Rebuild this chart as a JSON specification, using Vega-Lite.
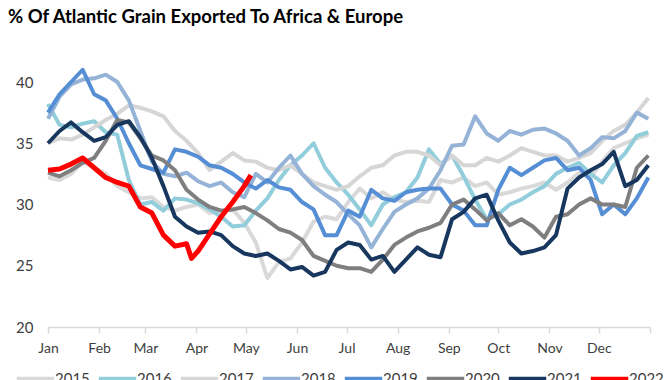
{
  "$schema": "https://vega.github.io/schema/vega-lite/v6.json",
  "width": 602,
  "height": 269.5,
  "autosize": "none",
  "padding": {"left": 48, "top": 57.5, "right": 20, "bottom": 53},
  "background": "white",
  "title": {"text": "% Of Atlantic Grain Exported To Africa & Europe", "anchor": "start", "frame": "group", "dx": -40, "offset": 31, "font": "Lato", "fontSize": 18.5, "fontWeight": "bold", "color": "#000000"},
  "config": {"view": {"stroke": null}, "font": "Lato"},
  "datasets": {
    "s2015": [
      {"date":"2022-01-01","v":32.2},{"date":"2022-01-08","v":32.0},{"date":"2022-01-15","v":32.5},{"date":"2022-01-22","v":33.5},{"date":"2022-01-29","v":33.0},{"date":"2022-02-05","v":32.5},{"date":"2022-02-12","v":31.5},{"date":"2022-02-19","v":31.0},{"date":"2022-02-26","v":30.5},{"date":"2022-03-05","v":30.6},{"date":"2022-03-12","v":29.8},{"date":"2022-03-19","v":29.5},{"date":"2022-03-26","v":29.8},{"date":"2022-04-02","v":30.0},{"date":"2022-04-09","v":29.3},{"date":"2022-04-16","v":29.5},{"date":"2022-04-23","v":29.6},{"date":"2022-04-30","v":28.5},{"date":"2022-05-07","v":26.9},{"date":"2022-05-14","v":24.0},{"date":"2022-05-21","v":25.3},{"date":"2022-05-28","v":25.6},{"date":"2022-06-04","v":26.9},{"date":"2022-06-11","v":28.6},{"date":"2022-06-18","v":29.0},{"date":"2022-06-25","v":28.8},{"date":"2022-07-02","v":30.2},{"date":"2022-07-09","v":31.3},{"date":"2022-07-16","v":30.5},{"date":"2022-07-23","v":31.0},{"date":"2022-07-30","v":30.4},{"date":"2022-08-06","v":30.2},{"date":"2022-08-13","v":30.3},{"date":"2022-08-20","v":30.2},{"date":"2022-08-27","v":32.0},{"date":"2022-09-03","v":31.8},{"date":"2022-09-10","v":32.2},{"date":"2022-09-17","v":31.5},{"date":"2022-09-24","v":31.8},{"date":"2022-10-01","v":30.8},{"date":"2022-10-08","v":31.0},{"date":"2022-10-15","v":31.3},{"date":"2022-10-22","v":31.5},{"date":"2022-10-29","v":31.8},{"date":"2022-11-05","v":31.2},{"date":"2022-11-12","v":31.8},{"date":"2022-11-19","v":32.6},{"date":"2022-11-26","v":32.2},{"date":"2022-12-03","v":33.5},{"date":"2022-12-10","v":34.6},{"date":"2022-12-17","v":35.0},{"date":"2022-12-24","v":35.4},{"date":"2022-12-31","v":35.7}
    ],
    "s2016": [
      {"date":"2022-01-01","v":38.2},{"date":"2022-01-08","v":36.5},{"date":"2022-01-15","v":36.3},{"date":"2022-01-22","v":36.6},{"date":"2022-01-29","v":36.8},{"date":"2022-02-05","v":35.9},{"date":"2022-02-12","v":35.7},{"date":"2022-02-19","v":32.0},{"date":"2022-02-26","v":30.0},{"date":"2022-03-05","v":30.2},{"date":"2022-03-12","v":29.5},{"date":"2022-03-19","v":30.5},{"date":"2022-03-26","v":30.4},{"date":"2022-04-02","v":30.1},{"date":"2022-04-09","v":29.6},{"date":"2022-04-16","v":29.0},{"date":"2022-04-23","v":28.2},{"date":"2022-04-30","v":28.3},{"date":"2022-05-07","v":29.5},{"date":"2022-05-14","v":30.5},{"date":"2022-05-21","v":32.0},{"date":"2022-05-28","v":33.2},{"date":"2022-06-04","v":34.0},{"date":"2022-06-11","v":35.0},{"date":"2022-06-18","v":33.0},{"date":"2022-06-25","v":31.8},{"date":"2022-07-02","v":30.8},{"date":"2022-07-09","v":29.6},{"date":"2022-07-16","v":28.3},{"date":"2022-07-23","v":30.0},{"date":"2022-07-30","v":30.6},{"date":"2022-08-06","v":31.0},{"date":"2022-08-13","v":32.2},{"date":"2022-08-20","v":34.5},{"date":"2022-08-27","v":33.3},{"date":"2022-09-03","v":34.0},{"date":"2022-09-10","v":32.3},{"date":"2022-09-17","v":30.4},{"date":"2022-09-24","v":28.8},{"date":"2022-10-01","v":29.2},{"date":"2022-10-08","v":30.0},{"date":"2022-10-15","v":30.4},{"date":"2022-10-22","v":31.0},{"date":"2022-10-29","v":31.5},{"date":"2022-11-05","v":32.5},{"date":"2022-11-12","v":33.0},{"date":"2022-11-19","v":33.4},{"date":"2022-11-26","v":32.5},{"date":"2022-12-03","v":31.8},{"date":"2022-12-10","v":33.2},{"date":"2022-12-17","v":34.2},{"date":"2022-12-24","v":35.6},{"date":"2022-12-31","v":35.9}
    ],
    "s2017": [
      {"date":"2022-01-01","v":35.0},{"date":"2022-01-08","v":35.4},{"date":"2022-01-15","v":35.3},{"date":"2022-01-22","v":35.7},{"date":"2022-01-29","v":36.3},{"date":"2022-02-05","v":36.9},{"date":"2022-02-12","v":37.4},{"date":"2022-02-19","v":38.1},{"date":"2022-02-26","v":37.9},{"date":"2022-03-05","v":37.6},{"date":"2022-03-12","v":37.2},{"date":"2022-03-19","v":36.0},{"date":"2022-03-26","v":35.2},{"date":"2022-04-02","v":34.2},{"date":"2022-04-09","v":32.8},{"date":"2022-04-16","v":33.5},{"date":"2022-04-23","v":34.2},{"date":"2022-04-30","v":33.6},{"date":"2022-05-07","v":33.5},{"date":"2022-05-14","v":33.0},{"date":"2022-05-21","v":32.8},{"date":"2022-05-28","v":33.2},{"date":"2022-06-04","v":32.5},{"date":"2022-06-11","v":31.8},{"date":"2022-06-18","v":31.5},{"date":"2022-06-25","v":31.2},{"date":"2022-07-02","v":31.5},{"date":"2022-07-09","v":32.3},{"date":"2022-07-16","v":33.0},{"date":"2022-07-23","v":33.2},{"date":"2022-07-30","v":34.0},{"date":"2022-08-06","v":34.3},{"date":"2022-08-13","v":34.3},{"date":"2022-08-20","v":34.0},{"date":"2022-08-27","v":33.2},{"date":"2022-09-03","v":34.0},{"date":"2022-09-10","v":33.2},{"date":"2022-09-17","v":33.2},{"date":"2022-09-24","v":33.8},{"date":"2022-10-01","v":33.5},{"date":"2022-10-08","v":34.0},{"date":"2022-10-15","v":34.6},{"date":"2022-10-22","v":34.3},{"date":"2022-10-29","v":34.0},{"date":"2022-11-05","v":34.0},{"date":"2022-11-12","v":33.5},{"date":"2022-11-19","v":33.8},{"date":"2022-11-26","v":34.2},{"date":"2022-12-03","v":35.2},{"date":"2022-12-10","v":36.0},{"date":"2022-12-17","v":36.5},{"date":"2022-12-24","v":37.5},{"date":"2022-12-31","v":38.7}
    ],
    "s2018": [
      {"date":"2022-01-01","v":37.0},{"date":"2022-01-08","v":38.8},{"date":"2022-01-15","v":39.8},{"date":"2022-01-22","v":40.2},{"date":"2022-01-29","v":40.3},{"date":"2022-02-05","v":40.6},{"date":"2022-02-12","v":40.0},{"date":"2022-02-19","v":38.5},{"date":"2022-02-26","v":36.0},{"date":"2022-03-05","v":33.5},{"date":"2022-03-12","v":32.5},{"date":"2022-03-19","v":32.3},{"date":"2022-03-26","v":32.6},{"date":"2022-04-02","v":31.9},{"date":"2022-04-09","v":31.5},{"date":"2022-04-16","v":31.8},{"date":"2022-04-23","v":31.0},{"date":"2022-04-30","v":30.6},{"date":"2022-05-07","v":32.5},{"date":"2022-05-14","v":31.8},{"date":"2022-05-21","v":33.0},{"date":"2022-05-28","v":34.0},{"date":"2022-06-04","v":32.5},{"date":"2022-06-11","v":31.5},{"date":"2022-06-18","v":30.8},{"date":"2022-06-25","v":30.2},{"date":"2022-07-02","v":29.2},{"date":"2022-07-09","v":28.3},{"date":"2022-07-16","v":26.5},{"date":"2022-07-23","v":28.0},{"date":"2022-07-30","v":29.4},{"date":"2022-08-06","v":30.0},{"date":"2022-08-13","v":30.5},{"date":"2022-08-20","v":31.3},{"date":"2022-08-27","v":32.8},{"date":"2022-09-03","v":34.8},{"date":"2022-09-10","v":34.9},{"date":"2022-09-17","v":37.2},{"date":"2022-09-24","v":35.8},{"date":"2022-10-01","v":35.2},{"date":"2022-10-08","v":36.0},{"date":"2022-10-15","v":35.7},{"date":"2022-10-22","v":36.1},{"date":"2022-10-29","v":36.2},{"date":"2022-11-05","v":35.8},{"date":"2022-11-12","v":35.2},{"date":"2022-11-19","v":34.0},{"date":"2022-11-26","v":34.6},{"date":"2022-12-03","v":35.5},{"date":"2022-12-10","v":35.4},{"date":"2022-12-17","v":36.0},{"date":"2022-12-24","v":37.5},{"date":"2022-12-31","v":37.0}
    ],
    "s2019": [
      {"date":"2022-01-01","v":37.5},{"date":"2022-01-08","v":39.0},{"date":"2022-01-15","v":40.0},{"date":"2022-01-22","v":41.0},{"date":"2022-01-29","v":39.0},{"date":"2022-02-05","v":38.5},{"date":"2022-02-12","v":37.0},{"date":"2022-02-19","v":35.0},{"date":"2022-02-26","v":33.2},{"date":"2022-03-05","v":32.9},{"date":"2022-03-12","v":32.6},{"date":"2022-03-19","v":34.5},{"date":"2022-03-26","v":34.3},{"date":"2022-04-02","v":33.9},{"date":"2022-04-09","v":33.2},{"date":"2022-04-16","v":33.0},{"date":"2022-04-23","v":32.5},{"date":"2022-04-30","v":31.8},{"date":"2022-05-07","v":31.3},{"date":"2022-05-14","v":32.0},{"date":"2022-05-21","v":31.4},{"date":"2022-05-28","v":31.2},{"date":"2022-06-04","v":30.2},{"date":"2022-06-11","v":29.6},{"date":"2022-06-18","v":27.5},{"date":"2022-06-25","v":27.5},{"date":"2022-07-02","v":29.5},{"date":"2022-07-09","v":29.0},{"date":"2022-07-16","v":31.2},{"date":"2022-07-23","v":30.5},{"date":"2022-07-30","v":30.3},{"date":"2022-08-06","v":31.0},{"date":"2022-08-13","v":31.2},{"date":"2022-08-20","v":31.3},{"date":"2022-08-27","v":31.3},{"date":"2022-09-03","v":30.0},{"date":"2022-09-10","v":29.5},{"date":"2022-09-17","v":28.3},{"date":"2022-09-24","v":28.3},{"date":"2022-10-01","v":31.2},{"date":"2022-10-08","v":33.0},{"date":"2022-10-15","v":32.4},{"date":"2022-10-22","v":33.0},{"date":"2022-10-29","v":33.6},{"date":"2022-11-05","v":33.8},{"date":"2022-11-12","v":32.8},{"date":"2022-11-19","v":33.0},{"date":"2022-11-26","v":32.0},{"date":"2022-12-03","v":29.2},{"date":"2022-12-10","v":30.0},{"date":"2022-12-17","v":29.2},{"date":"2022-12-24","v":30.5},{"date":"2022-12-31","v":32.2}
    ],
    "s2020": [
      {"date":"2022-01-01","v":32.6},{"date":"2022-01-08","v":32.3},{"date":"2022-01-15","v":32.8},{"date":"2022-01-22","v":33.4},{"date":"2022-01-29","v":33.8},{"date":"2022-02-05","v":35.2},{"date":"2022-02-12","v":36.9},{"date":"2022-02-19","v":36.7},{"date":"2022-02-26","v":35.4},{"date":"2022-03-05","v":34.0},{"date":"2022-03-12","v":33.6},{"date":"2022-03-19","v":32.8},{"date":"2022-03-26","v":31.2},{"date":"2022-04-02","v":30.4},{"date":"2022-04-09","v":29.8},{"date":"2022-04-16","v":29.5},{"date":"2022-04-23","v":29.6},{"date":"2022-04-30","v":29.8},{"date":"2022-05-07","v":29.3},{"date":"2022-05-14","v":28.7},{"date":"2022-05-21","v":28.0},{"date":"2022-05-28","v":27.7},{"date":"2022-06-04","v":27.1},{"date":"2022-06-11","v":25.8},{"date":"2022-06-18","v":25.4},{"date":"2022-06-25","v":25.0},{"date":"2022-07-02","v":24.8},{"date":"2022-07-09","v":24.8},{"date":"2022-07-16","v":24.5},{"date":"2022-07-23","v":25.5},{"date":"2022-07-30","v":26.7},{"date":"2022-08-06","v":27.3},{"date":"2022-08-13","v":27.8},{"date":"2022-08-20","v":28.1},{"date":"2022-08-27","v":28.5},{"date":"2022-09-03","v":30.0},{"date":"2022-09-10","v":30.4},{"date":"2022-09-17","v":29.6},{"date":"2022-09-24","v":28.7},{"date":"2022-10-01","v":29.3},{"date":"2022-10-08","v":28.3},{"date":"2022-10-15","v":28.8},{"date":"2022-10-22","v":28.2},{"date":"2022-10-29","v":27.3},{"date":"2022-11-05","v":29.0},{"date":"2022-11-12","v":29.2},{"date":"2022-11-19","v":30.0},{"date":"2022-11-26","v":30.5},{"date":"2022-12-03","v":30.0},{"date":"2022-12-10","v":30.0},{"date":"2022-12-17","v":29.8},{"date":"2022-12-24","v":33.0},{"date":"2022-12-31","v":34.0}
    ],
    "s2021": [
      {"date":"2022-01-01","v":35.0},{"date":"2022-01-08","v":36.0},{"date":"2022-01-15","v":36.7},{"date":"2022-01-22","v":35.9},{"date":"2022-01-29","v":35.2},{"date":"2022-02-05","v":35.5},{"date":"2022-02-12","v":36.5},{"date":"2022-02-19","v":36.8},{"date":"2022-02-26","v":35.5},{"date":"2022-03-05","v":33.8},{"date":"2022-03-12","v":31.5},{"date":"2022-03-19","v":29.0},{"date":"2022-03-26","v":28.2},{"date":"2022-04-02","v":27.7},{"date":"2022-04-09","v":27.8},{"date":"2022-04-16","v":27.5},{"date":"2022-04-23","v":26.6},{"date":"2022-04-30","v":26.0},{"date":"2022-05-07","v":25.8},{"date":"2022-05-14","v":26.0},{"date":"2022-05-21","v":25.4},{"date":"2022-05-28","v":24.7},{"date":"2022-06-04","v":24.9},{"date":"2022-06-11","v":24.2},{"date":"2022-06-18","v":24.5},{"date":"2022-06-25","v":26.3},{"date":"2022-07-02","v":26.9},{"date":"2022-07-09","v":26.7},{"date":"2022-07-16","v":25.5},{"date":"2022-07-23","v":25.8},{"date":"2022-07-30","v":24.5},{"date":"2022-08-06","v":25.5},{"date":"2022-08-13","v":26.5},{"date":"2022-08-20","v":25.9},{"date":"2022-08-27","v":25.7},{"date":"2022-09-03","v":28.8},{"date":"2022-09-10","v":29.4},{"date":"2022-09-17","v":30.5},{"date":"2022-09-24","v":30.8},{"date":"2022-10-01","v":28.7},{"date":"2022-10-08","v":26.9},{"date":"2022-10-15","v":26.0},{"date":"2022-10-22","v":26.2},{"date":"2022-10-29","v":26.5},{"date":"2022-11-05","v":27.5},{"date":"2022-11-12","v":31.3},{"date":"2022-11-19","v":32.2},{"date":"2022-11-26","v":32.8},{"date":"2022-12-03","v":33.3},{"date":"2022-12-10","v":34.3},{"date":"2022-12-17","v":31.5},{"date":"2022-12-24","v":32.0},{"date":"2022-12-31","v":33.2}
    ],
    "s2022": [
      {"date":"2022-01-01","v":32.8},{"date":"2022-01-08","v":32.9},{"date":"2022-01-15","v":33.3},{"date":"2022-01-22","v":33.8},{"date":"2022-01-29","v":33.0},{"date":"2022-02-05","v":32.2},{"date":"2022-02-12","v":31.8},{"date":"2022-02-19","v":31.5},{"date":"2022-02-26","v":29.8},{"date":"2022-03-05","v":29.3},{"date":"2022-03-12","v":27.5},{"date":"2022-03-19","v":26.6},{"date":"2022-03-26","v":26.8},{"date":"2022-03-29","v":25.6},{"date":"2022-04-02","v":26.2},{"date":"2022-04-09","v":27.6},{"date":"2022-04-16","v":29.0},{"date":"2022-04-23","v":30.2},{"date":"2022-04-30","v":31.5},{"date":"2022-05-04","v":32.4}
    ]
  },
  "layer": [
    {"data": {"name": "s2015"}, "transform": [{"calculate": "'2015'", "as": "year"}], "mark": {"type": "line", "strokeWidth": 4, "strokeJoin": "round"}, "encoding": {"x": {"field": "date", "type": "temporal"}, "y": {"field": "v", "type": "quantitative"}, "color": {"field": "year", "type": "nominal"}}},
    {"data": {"name": "s2016"}, "transform": [{"calculate": "'2016'", "as": "year"}], "mark": {"type": "line", "strokeWidth": 4, "strokeJoin": "round"}, "encoding": {"x": {"field": "date", "type": "temporal"}, "y": {"field": "v", "type": "quantitative"}, "color": {"field": "year", "type": "nominal"}}},
    {"data": {"name": "s2017"}, "transform": [{"calculate": "'2017'", "as": "year"}], "mark": {"type": "line", "strokeWidth": 4, "strokeJoin": "round"}, "encoding": {"x": {"field": "date", "type": "temporal"}, "y": {"field": "v", "type": "quantitative"}, "color": {"field": "year", "type": "nominal"}}},
    {"data": {"name": "s2018"}, "transform": [{"calculate": "'2018'", "as": "year"}], "mark": {"type": "line", "strokeWidth": 4, "strokeJoin": "round"}, "encoding": {"x": {"field": "date", "type": "temporal"}, "y": {"field": "v", "type": "quantitative"}, "color": {"field": "year", "type": "nominal"}}},
    {"data": {"name": "s2019"}, "transform": [{"calculate": "'2019'", "as": "year"}], "mark": {"type": "line", "strokeWidth": 4, "strokeJoin": "round"}, "encoding": {"x": {"field": "date", "type": "temporal"}, "y": {"field": "v", "type": "quantitative"}, "color": {"field": "year", "type": "nominal"}}},
    {"data": {"name": "s2020"}, "transform": [{"calculate": "'2020'", "as": "year"}], "mark": {"type": "line", "strokeWidth": 4, "strokeJoin": "round"}, "encoding": {"x": {"field": "date", "type": "temporal"}, "y": {"field": "v", "type": "quantitative"}, "color": {"field": "year", "type": "nominal"}}},
    {"data": {"name": "s2021"}, "transform": [{"calculate": "'2021'", "as": "year"}], "mark": {"type": "line", "strokeWidth": 4, "strokeJoin": "round"}, "encoding": {"x": {"field": "date", "type": "temporal"}, "y": {"field": "v", "type": "quantitative"}, "color": {"field": "year", "type": "nominal"}}},
    {"data": {"name": "s2022"}, "transform": [{"calculate": "'2022'", "as": "year"}], "mark": {"type": "line", "strokeWidth": 5, "strokeJoin": "round"}, "encoding": {
      "x": {"field": "date", "type": "temporal", "scale": {"type": "utc", "domain": [{"year": 2022, "month": 1, "date": 1, "utc": true}, {"year": 2023, "month": 1, "date": 1, "utc": true}]},
        "axis": {"title": null, "grid": false, "domainColor": "#d9d9d9", "domainWidth": 1.5, "tickColor": "#d9d9d9", "tickWidth": 1.5, "tickSize": 6,
          "values": [{"year":2022,"month":1,"date":1,"utc":true},{"year":2022,"month":2,"date":1,"utc":true},{"year":2022,"month":3,"date":1,"utc":true},{"year":2022,"month":4,"date":1,"utc":true},{"year":2022,"month":5,"date":1,"utc":true},{"year":2022,"month":6,"date":1,"utc":true},{"year":2022,"month":7,"date":1,"utc":true},{"year":2022,"month":8,"date":1,"utc":true},{"year":2022,"month":9,"date":1,"utc":true},{"year":2022,"month":10,"date":1,"utc":true},{"year":2022,"month":11,"date":1,"utc":true},{"year":2022,"month":12,"date":1,"utc":true},{"year":2023,"month":1,"date":1,"utc":true}],
          "labelExpr": "utcyear(datum.value) > 2022 ? '' : utcFormat(datum.value, '%b')", "labelFontSize": 14, "labelColor": "#404040", "labelPadding": 8, "labelFlush": false, "labelOverlap": false}},
      "y": {"field": "v", "type": "quantitative", "scale": {"domain": [20, 42], "nice": false, "zero": false},
        "axis": {"title": null, "grid": false, "domain": false, "ticks": false, "values": [20, 25, 30, 35, 40], "labelFontSize": 15, "labelColor": "#404040", "labelPadding": 15}},
      "color": {"field": "year", "type": "nominal", "title": null,
        "scale": {"domain": ["2015","2016","2017","2018","2019","2020","2021","2022"], "range": ["#d9d9d9","#92cddc","#d6d6d6","#95b3d7","#558ed5","#7f7f7f","#17375e","#ff0000"]},
        "legend": {"orient": "none", "direction": "horizontal", "legendX": -34, "legendY": 300, "symbolType": "stroke", "symbolSize": 1400, "symbolStrokeWidth": 5, "labelFontSize": 15, "labelColor": "#404040", "labelOffset": -2, "columnPadding": -2, "padding": 0}}
    }}
  ]
}
